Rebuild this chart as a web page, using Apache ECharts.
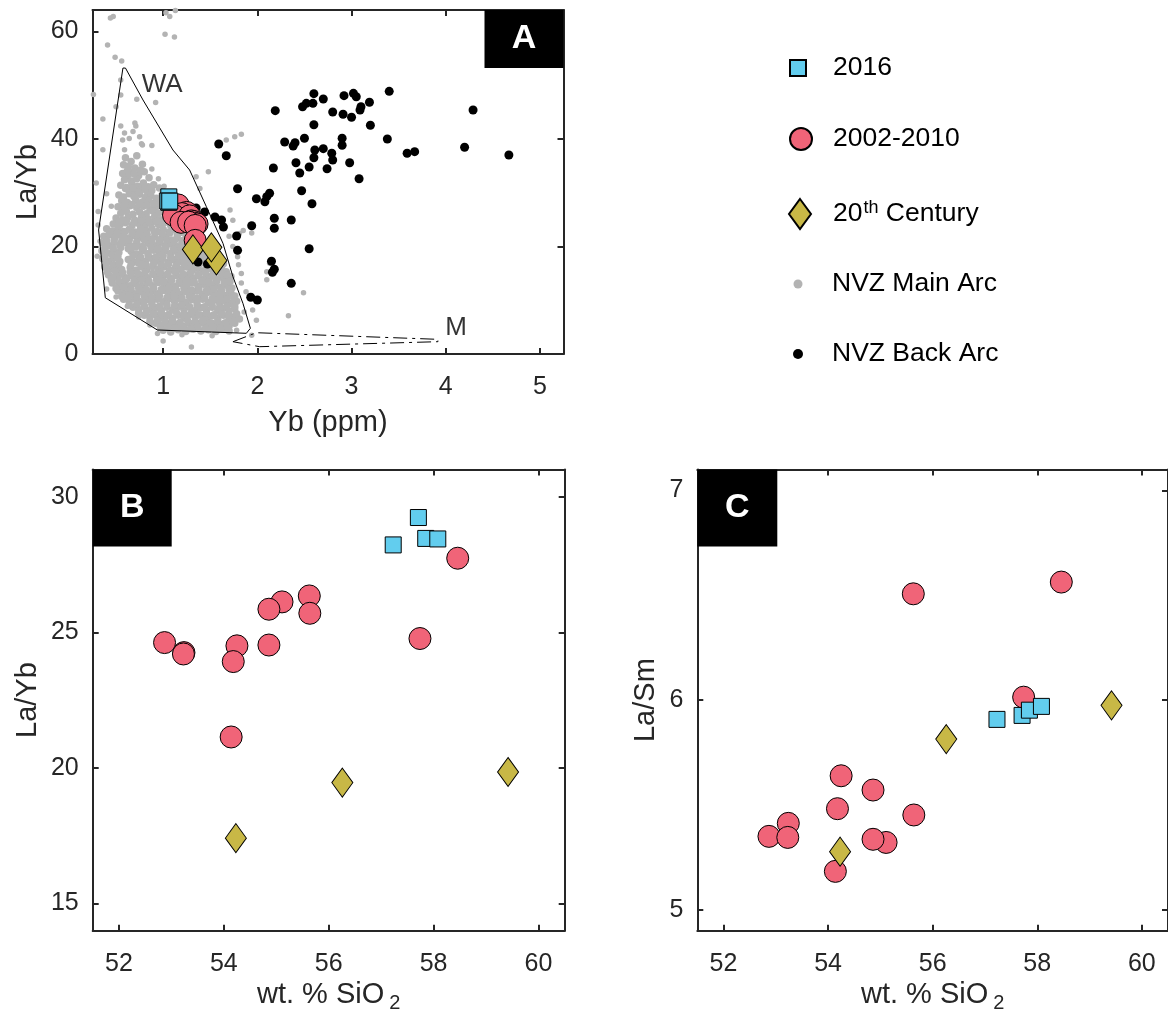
<!DOCTYPE html>
<html><head><meta charset="utf-8">
<script src="https://cdn.jsdelivr.net/npm/echarts@6/dist/echarts.min.js"></script>
<style>html,body{margin:0;padding:0;background:#fff}#c{width:1168px;height:1026px}</style>
</head><body><div id="c"></div>
<script>
// ---------- DATA ----------
// Panel B / C : SiO2 (wt.%), La/Yb, La/Sm
const sio2_2016 = [57.23, 57.71, 57.85, 58.08];
const laYb_2016 = [28.22, 29.23, 28.46, 28.44];
const laSm_2016 = [5.908, 5.927, 5.952, 5.970];
const yb_2016   = [1.06, 1.06, 1.05, 1.07];

const sio2_0210 = [58.46, 55.63, 55.11, 54.86, 55.64, 57.74, 52.87, 53.24, 53.23, 54.25, 54.86, 54.18, 54.14];
const laYb_0210 = [27.73, 26.34, 26.12, 25.85, 25.70, 24.77, 24.62, 24.25, 24.20, 24.50, 24.53, 23.92, 21.14];
const laSm_0210 = [6.563, 6.507, 5.321, 5.571, 5.452, 6.014, 5.350, 5.412, 5.345, 5.639, 5.336, 5.482, 5.183];
const yb_0210   = [1.16, 1.25, 1.20, 1.11, 1.28, 1.30, 1.33, 1.35, 1.36, 1.19, 1.27, 1.34, 1.34];

const sio2_20c = [54.23, 56.26, 59.42];
const laYb_20c = [17.41, 19.46, 19.85];
const laSm_20c = [5.277, 5.814, 5.975];
const yb_20c   = [1.565, 1.316, 1.512];

// Panel A : NVZ Back Arc [Yb, La/Yb]
const backArc = [[2.60,48.43],[2.70,47.44],[2.92,48.06],[3.02,48.50],[3.05,47.87],[3.19,46.83],[2.52,46.64],[2.59,46.64],[2.48,46.01],[3.10,46.01],[3.09,45.40],[2.19,45.27],[2.80,45.02],[2.91,44.60],[3.00,44.04],[2.60,42.66],[3.20,42.55],[2.29,39.44],[2.40,39.31],[2.38,38.70],[2.50,40.13],[2.90,40.13],[2.90,38.83],[2.61,37.95],[2.70,38.20],[2.79,37.34],[2.60,36.52],[2.80,36.09],[2.98,35.59],[2.41,35.59],[2.55,34.79],[2.74,34.47],[2.45,33.67],[2.17,34.60],[3.08,32.61],[1.59,39.07],[1.67,36.89],[1.79,30.75],[2.47,30.38],[2.13,29.90],[2.10,29.27],[1.99,28.89],[2.08,28.33],[2.58,27.96],[2.18,25.25],[2.36,24.93],[1.94,23.87],[2.18,23.39],[1.78,21.95],[2.55,19.59],[1.79,19.29],[2.15,17.25],[2.18,15.76],[2.16,15.20],[2.36,13.15],[1.93,10.55],[2.00,10.05],[1.35,27.16],[1.44,26.42],[1.55,25.49],[1.62,24.93],[1.64,23.63],[1.37,17.12],[1.47,16.74],[3.40,48.87],[3.38,40.00],[3.59,37.34],[3.67,37.64],[4.20,38.46],[4.29,45.40],[4.67,37.02]];

// Panel A : NVZ Main Arc, dense cloud [Yb, La/Yb]
const mainArcCore = [
[0.60,36.5],[0.66,35.8],[0.72,36.9],[0.63,34.9],[0.70,34.6],[0.78,35.3],[0.58,35.2],
[0.57,33.6],[0.62,33.1],[0.68,33.8],[0.74,33.2],[0.80,33.9],[0.85,32.8],[0.59,32.4],[0.66,32.2],[0.72,32.6],
[0.55,31.4],[0.61,31.0],[0.67,31.6],[0.73,31.2],[0.79,31.8],[0.84,31.1],[0.90,31.5],[0.64,30.4],[0.70,30.2],[0.77,30.6],[0.83,30.3],[0.96,30.9],
[0.53,29.6],[0.58,29.2],[0.64,29.8],[0.69,29.3],[0.75,29.7],[0.81,29.1],[0.87,29.5],[0.93,29.0],[0.99,29.6],[0.56,28.5],[0.62,28.2],[0.71,28.6],[0.78,28.3],[0.85,28.7],[0.91,28.1],[1.02,28.4],
[0.52,27.4],[0.58,27.0],[0.65,27.6],[0.72,27.2],[0.79,27.5],[0.86,26.9],[0.92,27.3],[0.98,27.6],[1.05,27.0],[0.55,26.2],[0.61,26.5],[0.68,26.0],[0.75,26.4],[0.82,26.1],[0.89,26.6],[0.95,26.2],[1.02,26.5],[1.08,26.0],
[0.50,25.3],[0.57,25.0],[0.63,25.5],[0.70,24.9],[0.77,25.4],[0.84,25.1],[0.91,25.6],[0.97,25.0],[1.04,25.3],[1.11,24.9],[0.47,24.2],[0.54,24.0],[0.60,24.4],[0.67,23.9],[0.74,24.3],[0.81,24.0],[0.88,24.5],[0.95,24.1],[1.01,24.4],[1.08,23.9],[1.15,24.2],[1.21,23.8],
[0.40,23.3],[0.46,22.9],[0.52,23.4],[0.58,22.8],[0.64,23.2],[0.70,22.7],[0.76,23.3],[0.82,22.9],[0.88,23.4],[0.94,22.8],[1.00,23.2],[1.06,22.7],[1.12,23.1],[1.18,22.6],[1.24,23.0],[1.30,22.5],
[0.37,21.9],[0.43,22.2],[0.49,21.7],[0.55,22.1],[0.61,21.6],[0.67,22.0],[0.73,21.5],[0.79,21.9],[0.85,21.4],[0.91,21.8],[0.97,21.3],[1.03,21.7],[1.09,21.2],[1.15,21.6],[1.21,21.1],[1.27,21.5],[1.33,21.0],[1.39,21.4],
[0.36,20.6],[0.42,20.2],[0.48,20.8],[0.54,20.3],[0.60,20.7],[0.66,20.1],[0.72,20.5],[0.78,20.0],[0.84,20.6],[0.90,20.2],[0.96,20.7],[1.02,20.1],[1.08,20.5],[1.14,20.0],[1.20,20.4],[1.26,19.9],[1.32,20.3],[1.38,19.8],[1.44,20.2],[1.50,19.7],
[0.35,19.2],[0.41,18.8],[0.47,19.3],[0.53,18.9],[0.66,19.1],[0.72,18.6],[0.78,19.2],[0.84,18.7],[0.90,19.3],[0.96,18.8],[1.02,19.2],[1.08,18.7],[1.14,19.1],[1.20,18.6],[1.26,19.0],[1.32,18.5],[1.38,18.9],[1.44,18.4],[1.50,18.8],[1.56,18.3],
[0.36,17.7],[0.42,17.3],[0.48,17.8],[0.54,17.2],[0.63,17.6],[0.69,17.1],[0.75,17.7],[0.81,17.2],[0.87,17.8],[0.93,17.3],[0.99,17.7],[1.05,17.1],[1.11,17.6],[1.17,17.2],[1.23,17.7],[1.29,17.1],[1.35,17.5],[1.41,17.0],[1.47,17.4],[1.53,16.9],[1.59,17.3],[1.64,16.8],
[0.38,16.2],[0.44,15.8],[0.50,16.3],[0.56,15.7],[0.65,16.1],[0.71,15.6],[0.77,16.2],[0.83,15.7],[0.89,16.3],[0.95,15.8],[1.01,16.2],[1.07,15.6],[1.13,16.1],[1.19,15.7],[1.25,16.2],[1.31,15.6],[1.37,16.0],[1.43,15.5],[1.49,15.9],[1.55,15.4],[1.61,15.8],[1.67,15.3],
[0.42,14.7],[0.48,14.3],[0.54,14.8],[0.60,14.2],[0.66,14.6],[0.72,14.1],[0.78,14.7],[0.84,14.2],[0.90,14.8],[0.96,14.3],[1.02,14.7],[1.08,14.1],[1.14,14.6],[1.20,14.2],[1.26,14.7],[1.32,14.1],[1.38,14.5],[1.44,14.0],[1.50,14.4],[1.56,13.9],[1.62,14.3],[1.68,13.8],[1.72,14.4],
[0.46,13.2],[0.53,12.8],[0.59,13.3],[0.65,12.7],[0.71,13.1],[0.77,12.6],[0.83,13.2],[0.89,12.7],[0.95,13.3],[1.01,12.8],[1.07,13.2],[1.13,12.6],[1.19,13.1],[1.25,12.7],[1.31,13.2],[1.37,12.6],[1.43,13.0],[1.49,12.5],[1.55,12.9],[1.61,12.4],[1.67,12.8],[1.73,12.3],
[0.52,11.7],[0.58,11.3],[0.64,11.8],[0.70,11.2],[0.76,11.6],[0.82,11.1],[0.88,11.7],[0.94,11.2],[1.00,11.8],[1.06,11.3],[1.12,11.7],[1.18,11.1],[1.24,11.6],[1.30,11.2],[1.36,11.7],[1.42,11.1],[1.48,11.5],[1.54,11.0],[1.60,11.4],[1.66,10.9],[1.72,11.3],[1.76,10.8],
[0.58,10.2],[0.64,9.8],[0.70,10.3],[0.76,9.7],[0.82,10.1],[0.88,9.6],[0.94,10.2],[1.00,9.7],[1.06,10.3],[1.12,9.8],[1.18,10.2],[1.24,9.6],[1.30,10.1],[1.36,9.7],[1.42,10.2],[1.48,9.6],[1.54,10.0],[1.60,9.5],[1.66,9.9],[1.72,9.4],[1.78,9.8],
[0.68,8.7],[0.74,8.3],[0.80,8.8],[0.86,8.2],[0.92,8.6],[0.98,8.1],[1.04,8.7],[1.10,8.2],[1.16,8.8],[1.22,8.3],[1.28,8.7],[1.34,8.1],[1.40,8.6],[1.46,8.2],[1.52,8.7],[1.58,8.1],[1.64,8.5],[1.70,8.0],[1.76,8.4],
[0.80,7.2],[0.86,6.8],[0.92,7.3],[0.98,6.7],[1.04,7.1],[1.10,6.6],[1.16,7.2],[1.22,6.7],[1.28,7.3],[1.34,6.8],[1.40,7.2],[1.46,6.6],[1.52,7.1],[1.58,6.7],[1.64,7.2],[1.70,6.6],[1.76,7.0],[1.81,6.5],
[0.92,5.7],[0.98,5.3],[1.04,5.8],[1.10,5.2],[1.16,5.6],[1.22,5.1],[1.28,5.7],[1.34,5.2],[1.40,5.8],[1.46,5.3],[1.52,5.7],[1.58,5.1],[1.64,5.6],[1.70,5.2],[1.76,5.7],
[1.00,4.4],[1.08,4.1],[1.16,4.5],[1.24,4.2],[1.32,4.6],[1.40,4.3],[1.48,4.5],[1.56,4.2],[1.64,4.6],[1.70,4.3]
];
// Panel A : NVZ Main Arc, further points between the rows above [Yb, La/Yb]
const mainArcFill = [
[0.62,34.1],[0.69,33.5],[0.76,34.2],[0.60,30.8],[0.68,30.9],[0.75,30.1],[0.81,30.8],[0.88,30.4],[0.59,27.9],[0.67,27.8],[0.75,28.0],[0.83,27.7],[0.90,27.9],[0.97,28.0],
[0.53,24.7],[0.61,24.8],[0.69,24.5],[0.77,24.8],[0.85,24.5],[0.93,24.7],[1.01,24.6],[1.09,24.4],[1.15,24.8],
[0.43,22.6],[0.51,22.4],[0.59,22.7],[0.67,22.4],[0.75,22.6],[0.83,22.3],[0.91,22.6],[0.99,22.3],[1.07,22.5],[1.15,22.2],[1.23,22.4],
[0.40,21.1],[0.48,21.3],[0.56,21.0],[0.64,21.2],[0.72,20.9],[0.80,21.2],[0.88,20.9],[0.96,21.1],[1.04,20.8],[1.12,21.1],[1.20,20.8],[1.28,21.0],[1.36,20.7],
[0.39,19.9],[0.47,19.7],[0.55,19.8],[0.63,19.6],[0.71,19.9],[0.79,19.6],[0.87,19.9],[0.95,19.6],[1.03,19.8],[1.11,19.5],[1.19,19.8],[1.27,19.5],[1.35,19.7],[1.43,19.4],[1.49,19.2],
[0.38,18.2],[0.46,18.4],[0.52,18.1],[0.68,18.3],[0.76,18.0],[0.84,18.3],[0.92,18.0],[1.00,18.3],[1.08,18.0],[1.16,18.2],[1.24,17.9],[1.32,18.2],[1.40,17.9],[1.48,18.1],[1.56,17.8],
[0.40,16.9],[0.47,16.6],[0.53,16.8],[0.66,16.7],[0.74,16.9],[0.82,16.6],[0.90,16.9],[0.98,16.6],[1.06,16.8],[1.14,16.5],[1.22,16.8],[1.30,16.5],[1.38,16.7],[1.46,16.4],[1.54,16.6],[1.62,16.3],
[0.41,15.2],[0.49,15.4],[0.57,15.1],[0.65,15.3],[0.73,15.0],[0.81,15.3],[0.89,15.0],[0.97,15.2],[1.05,14.9],[1.13,15.2],[1.21,14.9],[1.29,15.1],[1.37,14.8],[1.45,15.1],[1.53,14.8],[1.61,15.0],[1.68,14.7],
[0.45,13.8],[0.53,13.6],[0.61,13.9],[0.69,13.6],[0.77,13.8],[0.85,13.5],[0.93,13.8],[1.01,13.5],[1.09,13.7],[1.17,13.4],[1.25,13.7],[1.33,13.4],[1.41,13.6],[1.49,13.3],[1.57,13.6],[1.65,13.3],[1.71,13.5],
[0.50,12.2],[0.58,12.4],[0.66,12.1],[0.74,12.3],[0.82,12.0],[0.90,12.3],[0.98,12.0],[1.06,12.2],[1.14,11.9],[1.22,12.2],[1.30,11.9],[1.38,12.1],[1.46,11.8],[1.54,12.1],[1.62,11.8],[1.70,12.0],
[0.56,10.7],[0.64,10.9],[0.72,10.6],[0.80,10.8],[0.88,10.5],[0.96,10.8],[1.04,10.5],[1.12,10.7],[1.20,10.4],[1.28,10.7],[1.36,10.4],[1.44,10.6],[1.52,10.3],[1.60,10.6],[1.68,10.3],[1.75,10.5],
[0.64,9.1],[0.72,9.3],[0.80,9.0],[0.88,9.2],[0.96,8.9],[1.04,9.2],[1.12,8.9],[1.20,9.1],[1.28,8.8],[1.36,9.1],[1.44,8.8],[1.52,9.0],[1.60,8.7],[1.68,9.0],[1.76,8.9],
[0.74,7.6],[0.82,7.8],[0.90,7.5],[0.98,7.7],[1.06,7.4],[1.14,7.7],[1.22,7.4],[1.30,7.6],[1.38,7.3],[1.46,7.6],[1.54,7.3],[1.62,7.5],[1.70,7.2],[1.78,7.5],
[0.86,6.1],[0.94,6.3],[1.02,6.0],[1.10,6.2],[1.18,5.9],[1.26,6.2],[1.34,5.9],[1.42,6.1],[1.50,5.8],[1.58,6.1],[1.66,5.8],[1.74,6.0],
[0.97,4.9],[1.05,5.0],[1.13,4.8],[1.21,5.0],[1.29,4.7],[1.37,5.0],[1.45,4.8],[1.53,4.9],[1.61,4.7],[1.69,4.9]
];
// Panel A : NVZ Main Arc, scattered points [Yb, La/Yb]
const mainArcSparse = [
[0.44,62.5],[0.47,62.8],[1.03,63.5],[1.07,62.8],[1.13,63.9],[1.02,59.5],[1.12,59.0],[0.41,57.5],[0.49,55.2],[0.56,54.5],[0.26,48.3],[0.55,51.0],[0.55,48.2],[0.72,47.4],[0.92,46.8],[0.50,46.0],[0.36,43.7],[0.55,42.4],[0.70,43.0],[0.71,42.4],[0.59,41.1],[0.68,41.4],[0.64,40.1],[0.75,40.4],[0.77,39.1],[0.88,38.8],[0.57,39.8],[0.36,38.0],[1.67,39.8],[1.76,40.4],[1.83,40.9],[1.48,33.9],[1.35,33.0],[1.39,30.8],[1.71,26.8],[1.74,24.9],[1.85,23.0],[1.81,22.4],[1.94,22.5],[1.74,20.0],[1.79,18.1],[1.83,15.0],[1.83,13.2],[2.10,13.8],[2.49,11.4],[2.10,15.3],[2.13,16.9],[1.95,8.2],[1.99,6.3],[1.69,5.7],[1.94,3.5],[1.00,2.4],[1.30,1.3],[2.33,7.1],[0.29,31.8],[0.78,38.9],[0.59,38.0],[0.31,26.5],[0.33,21.0],[0.45,27.5],[0.40,29.8],
[0.88,34.4],[0.95,32.6],[1.01,31.2],[0.31,24.0],[0.30,18.2],[0.40,12.1],[0.50,10.6],[0.62,8.9],[0.74,6.9],[0.86,5.4],[0.94,3.8],[1.20,3.6],[1.52,3.4],[1.78,4.4],[1.86,7.8],[1.88,11.6],[1.80,16.6],[1.70,21.9]
];

// Panel A field outlines [Yb, La/Yb]
const waOutline = [[0.573,53.2],[0.60,53.2],[0.786,47.26],[1.104,37.95],[1.281,34.23],[1.459,27.40],[1.635,20.60],[1.741,14.38],[1.847,9.43],[1.926,4.78],[1.883,3.85],[0.938,4.47],[0.386,10.47],[0.315,23.07],[0.573,53.2]];
const mOutline = [[1.741,2.29],[1.989,3.96],[3.917,2.73],[3.917,2.29],[2.024,1.36],[1.741,2.29]];
const fieldLabels = [{name:'WA', value:[0.99,50.05]}, {name:'M', value:[4.11,4.78]}];

// Tick values
const ticksYbA = [1,2,3,4,5];
const ticksLaYbA = [0,20,40,60];
const ticksSiO2 = [52,54,56,58,60];
const ticksLaYbB = [15,20,25,30];
const ticksLaSmC = [5,6,7];

// ---------- STYLE / LAYOUT ----------
const FONT = 'Liberation Sans, Arial, sans-serif';
const AX = '#262626';
const C_2016 = '#62cdee', C_0210 = '#f06478', C_20C = '#c8b846', C_MAIN = '#b3b3b3', C_BACK = '#000000';
const gA = {left: 92.5, top: 10, width: 471, height: 344};
const gB = {left: 92.7, top: 469.5, width: 472, height: 461.2};
const gC = {left: 697.3, top: 469.5, width: 472, height: 461.2};

const zip = (a, b) => a.map((v, i) => [v, b[i]]);

function axis(kind, gridIndex, min, max, ticks, position, show, extra) {
  const o = {
    type: 'value', gridIndex, min, max, position,
    axisLine: {show: true, onZero: false, lineStyle: {color: AX, width: 2}},
    axisTick: {show: true, inside: true, length: 6, customValues: ticks, lineStyle: {color: AX, width: 2}},
    axisLabel: {show: show, customValues: ticks, fontSize: 25, color: AX, fontFamily: FONT, margin: kind === 'x' ? 21 : 14},
    splitLine: {show: false}
  };
  return Object.assign(o, extra || {});
}
const nameStyle = {fontSize: 29, color: AX, fontFamily: FONT, lineHeight: 34,
  rich: {sub: {fontSize: 20, lineHeight: 20, verticalAlign: 'top', padding: [16, 0, 0, 5], color: AX, fontFamily: FONT}}};

const xAxis = [
  axis('x', 0, 0.25, 5.25, ticksYbA, 'bottom', true, {name: 'Yb (ppm)', nameLocation: 'middle', nameGap: 52, nameTextStyle: nameStyle}),
  axis('x', 0, 0.25, 5.25, ticksYbA, 'top', false),
  axis('x', 1, 51.5, 60.5, ticksSiO2, 'bottom', true, {name: 'wt. % SiO{sub|2}', nameLocation: 'middle', nameGap: 38, nameTextStyle: nameStyle}),
  axis('x', 1, 51.5, 60.5, ticksSiO2, 'top', false),
  axis('x', 2, 51.5, 60.5, ticksSiO2, 'bottom', true, {name: 'wt. % SiO{sub|2}', nameLocation: 'middle', nameGap: 38, nameTextStyle: nameStyle}),
  axis('x', 2, 51.5, 60.5, ticksSiO2, 'top', false)
];
const yAxis = [
  axis('y', 0, 0, 64, ticksLaYbA, 'left', true, {name: 'La/Yb', nameLocation: 'middle', nameGap: 48, nameTextStyle: nameStyle}),
  axis('y', 0, 0, 64, ticksLaYbA, 'right', false),
  axis('y', 1, 14, 31, ticksLaYbB, 'left', true, {name: 'La/Yb', nameLocation: 'middle', nameGap: 48, nameTextStyle: nameStyle}),
  axis('y', 1, 14, 31, ticksLaYbB, 'right', false),
  axis('y', 2, 4.9, 7.1, ticksLaSmC, 'left', true, {name: 'La/Sm', nameLocation: 'middle', nameGap: 34, nameTextStyle: nameStyle}),
  axis('y', 2, 4.9, 7.1, ticksLaSmC, 'right', false)
];

const border = {borderColor: '#000', borderWidth: 1};
function sample(name, xi, yi, data, z) {
  const base = {name, type: 'scatter', xAxisIndex: xi, yAxisIndex: yi, data, z, silent: true};
  if (name === '2016') return Object.assign(base, {symbol: 'rect', symbolSize: 16, itemStyle: Object.assign({color: C_2016, opacity: 1}, border)});
  if (name === '2002-2010') return Object.assign(base, {symbol: 'circle', symbolSize: 22, itemStyle: Object.assign({color: C_0210, opacity: 1}, border)});
  return Object.assign(base, {symbol: 'diamond', symbolSize: [21, 29], itemStyle: Object.assign({color: C_20C, opacity: 1}, border)});
}

const series = [
  {name: 'NVZ Main Arc', type: 'scatter', xAxisIndex: 0, yAxisIndex: 0, data: mainArcSparse, symbol: 'circle', symbolSize: 5.5, itemStyle: {color: C_MAIN, opacity: 1}, z: 2, silent: true},
  {name: 'NVZ Main Arc', type: 'scatter', xAxisIndex: 0, yAxisIndex: 0, data: mainArcCore, symbol: 'circle', symbolSize: 7.5, itemStyle: {color: C_MAIN, opacity: 1}, z: 2, silent: true},
  {name: 'NVZ Main Arc', type: 'scatter', xAxisIndex: 0, yAxisIndex: 0, data: mainArcFill, symbol: 'circle', symbolSize: 7.5, itemStyle: {color: C_MAIN, opacity: 1}, z: 2, silent: true},
  {name: 'WA field', type: 'line', xAxisIndex: 0, yAxisIndex: 0, data: waOutline, symbol: 'none', lineStyle: {color: '#000', width: 1}, z: 3, silent: true},
  {name: 'M field', type: 'line', xAxisIndex: 0, yAxisIndex: 0, data: mOutline, symbol: 'none', lineStyle: {color: '#000', width: 1, type: [14, 5, 3, 5]}, z: 3, silent: true},
  {name: 'fieldLabels', type: 'scatter', xAxisIndex: 0, yAxisIndex: 0, data: fieldLabels, symbolSize: 2, itemStyle: {color: 'rgba(0,0,0,0)'},
    label: {show: true, position: 'inside', formatter: p => p.name, fontSize: 26, color: '#000', fontFamily: FONT}, z: 4, silent: true},
  {name: 'NVZ Back Arc', type: 'scatter', xAxisIndex: 0, yAxisIndex: 0, data: backArc, symbol: 'circle', symbolSize: 9, itemStyle: {color: C_BACK, opacity: 1}, z: 5, silent: true},
  sample('2002-2010', 0, 0, zip(yb_0210, laYb_0210), 6),
  sample('2016', 0, 0, zip(yb_2016, laYb_2016), 7),
  sample('20th Century', 0, 0, zip(yb_20c, laYb_20c), 8),
  sample('2002-2010', 2, 2, zip(sio2_0210, laYb_0210), 6),
  sample('2016', 2, 2, zip(sio2_2016, laYb_2016), 7),
  sample('20th Century', 2, 2, zip(sio2_20c, laYb_20c), 8),
  sample('2002-2010', 4, 4, zip(sio2_0210, laSm_0210), 6),
  sample('2016', 4, 4, zip(sio2_2016, laSm_2016), 7),
  sample('20th Century', 4, 4, zip(sio2_20c, laSm_20c), 8)
];

function legendItem(name, cy, w, h, iconCx, textX, extra) {
  const left = iconCx - w / 2;
  const o = {data: [name], left, top: cy - 15, orient: 'vertical', itemWidth: w, itemHeight: h, padding: 0,
    selectedMode: false, itemGap: 0,
    textStyle: {fontSize: 26.5, color: '#000', fontFamily: FONT, lineHeight: 30, padding: [0, 0, 0, textX - (left + w) - 5],
      rich: {sup: {fontSize: 18, lineHeight: 18, verticalAlign: 'top', padding: [0, 0, 12, 1], color: '#000', fontFamily: FONT}}}};
  return Object.assign(o, extra || {});
}
const legend = [
  legendItem('2016', 68, 16, 16, 797, 832),
  legendItem('2002-2010', 139, 22, 22, 800, 832),
  legendItem('20th Century', 213, 22, 30, 799, 832, {formatter: () => '20{sup|th} Century'}),
  legendItem('NVZ Main Arc', 284, 9, 9, 798, 832),
  legendItem('NVZ Back Arc', 354, 10, 10, 798, 832)
];

function panelTag(letter, x, y, w, h) {
  return [
    {type: 'rect', shape: {x, y, width: w, height: h}, style: {fill: '#000'}, z: 100},
    {type: 'text', x: x + w / 2, y: y + h / 2, style: {text: letter, fill: '#fff', font: 'bold 34px ' + FONT, textAlign: 'center', textVerticalAlign: 'middle'}, z: 101}
  ];
}
const graphic = [].concat(
  panelTag('A', gA.left + gA.width - 79, gA.top, 79, 58),
  panelTag('B', gB.left, gB.top, 79, 77),
  panelTag('C', gC.left, gC.top, 80, 77)
);

const chart = echarts.init(document.getElementById('c'), null, {renderer: 'canvas'});
chart.setOption({
  animation: false,
  backgroundColor: '#fff',
  textStyle: {fontFamily: FONT},
  grid: [gA, gB, gC].map(g => Object.assign({containLabel: false}, g)),
  xAxis, yAxis, series, legend, graphic
});
</script></body></html>
